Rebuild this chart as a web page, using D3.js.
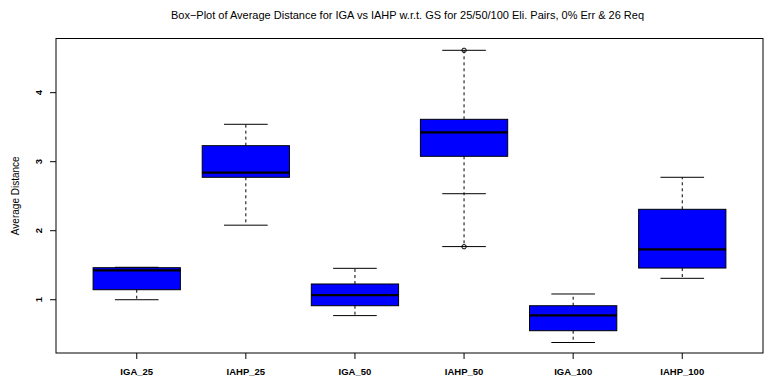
<!DOCTYPE html>
<html>
<head>
<meta charset="utf-8">
<script src="https://cdn.jsdelivr.net/npm/d3@7"></script>
<style>
  body { margin: 0; background: #fff; }
  svg { display: block; font-family: "Liberation Sans", Arial, sans-serif; }
</style>
</head>
<body>
<div id="chart"></div>
<script>
const categories = ['IGA_25', 'IAHP_25', 'IGA_50', 'IAHP_50', 'IGA_100', 'IAHP_100'];
// five-number summaries
const lowerWhisker = [1.00, 2.08, 0.77, 1.77, 0.38, 1.31];
const q1Values     = [1.145, 2.774, 0.913, 3.078, 0.551, 1.459];
const medianValues = [1.426, 2.841, 1.068, 3.426, 0.774, 1.730];
const q3Values     = [1.464, 3.232, 1.228, 3.614, 0.913, 2.310];
const upperWhisker = [1.47, 3.542, 1.455, 4.614, 1.083, 2.774];
// extra staples and outlier points (IAHP_50)
const extraCaps = [{ cat: 'IAHP_50', v: 2.536 }];
const outliers = [{ cat: 'IAHP_50', v: 4.614 }, { cat: 'IAHP_50', v: 1.768 }];
const yTicks = [1, 2, 3, 4];

const W = 767, H = 381;
const m = { left: 56, right: 4, top: 38.5, bottom: 28 };

const svg = d3.select('#chart').append('svg')
  .attr('width', W).attr('height', H);

// R style: x range 0.5..6.5 with 4% padding each side
const x = d3.scaleLinear()
  .domain([0.5 - 0.24, 6.5 + 0.24])
  .range([m.left, W - m.right]);
const y = d3.scaleLinear()
  .domain([0.228, 4.785])
  .range([H - m.bottom, m.top]);

const step = x(2) - x(1);
const boxW = step * 0.8;
const capW = boxW * 0.5;

const boxes = categories.map((c, i) => ({
  cat: c, pos: i + 1,
  lo: lowerWhisker[i], q1: q1Values[i], med: medianValues[i],
  q3: q3Values[i], hi: upperWhisker[i]
}));
const posOf = c => categories.indexOf(c) + 1;

// frame
svg.append('rect')
  .attr('x', m.left).attr('y', m.top)
  .attr('width', W - m.right - m.left)
  .attr('height', H - m.bottom - m.top)
  .attr('fill', 'none').attr('stroke', '#000').attr('stroke-width', 1);

const g = svg.append('g');

// whiskers (dashed)
g.selectAll('line.wup').data(boxes).join('line')
  .attr('x1', d => x(d.pos)).attr('x2', d => x(d.pos))
  .attr('y1', d => y(d.q3)).attr('y2', d => y(d.hi))
  .attr('stroke', '#000').attr('stroke-dasharray', '3,3');
g.selectAll('line.wlo').data(boxes).join('line')
  .attr('x1', d => x(d.pos)).attr('x2', d => x(d.pos))
  .attr('y1', d => y(d.q1)).attr('y2', d => y(d.lo))
  .attr('stroke', '#000').attr('stroke-dasharray', '3,3');

// staples
const caps = boxes.flatMap(d => [{ pos: d.pos, v: d.lo }, { pos: d.pos, v: d.hi }])
  .concat(extraCaps.map(e => ({ pos: posOf(e.cat), v: e.v })));
g.selectAll('line.cap').data(caps).join('line')
  .attr('x1', d => x(d.pos) - capW / 2).attr('x2', d => x(d.pos) + capW / 2)
  .attr('y1', d => y(d.v)).attr('y2', d => y(d.v))
  .attr('stroke', '#000').attr('stroke-width', 1);

// boxes
g.selectAll('rect.box').data(boxes).join('rect')
  .attr('x', d => x(d.pos) - boxW / 2)
  .attr('y', d => y(d.q3))
  .attr('width', boxW)
  .attr('height', d => y(d.q1) - y(d.q3))
  .attr('fill', '#0000ff').attr('stroke', '#000').attr('stroke-width', 1);

// medians
g.selectAll('line.med').data(boxes).join('line')
  .attr('x1', d => x(d.pos) - boxW / 2).attr('x2', d => x(d.pos) + boxW / 2)
  .attr('y1', d => y(d.med)).attr('y2', d => y(d.med))
  .attr('stroke', '#000').attr('stroke-width', 2.2);

// outliers
g.selectAll('circle.out').data(outliers).join('circle')
  .attr('cx', d => x(posOf(d.cat))).attr('cy', d => y(d.v))
  .attr('r', 2.2).attr('fill', 'none').attr('stroke', '#000').attr('stroke-width', 1);

// y axis
const yAxis = svg.append('g');
yAxis.selectAll('line').data(yTicks).join('line')
  .attr('x1', m.left).attr('x2', m.left - 6)
  .attr('y1', d => y(d)).attr('y2', d => y(d))
  .attr('stroke', '#000');
yAxis.selectAll('text').data(yTicks).join('text')
  .attr('transform', d => `translate(${m.left - 14},${y(d)}) rotate(-90)`)
  .attr('text-anchor', 'middle')
  .attr('font-size', 9.5).attr('font-weight', 'bold')
  .text(d => d);

// x axis
const xAxis = svg.append('g');
xAxis.selectAll('line').data(boxes).join('line')
  .attr('x1', d => x(d.pos)).attr('x2', d => x(d.pos))
  .attr('y1', H - m.bottom).attr('y2', H - m.bottom + 6)
  .attr('stroke', '#000');
xAxis.selectAll('text').data(boxes).join('text')
  .attr('x', d => x(d.pos)).attr('y', H - m.bottom + 22)
  .attr('text-anchor', 'middle')
  .attr('font-size', 9.5).attr('font-weight', 'bold')
  .text(d => d.cat);

// axis title
svg.append('text')
  .attr('transform', `translate(19,${(m.top + H - m.bottom) / 2}) rotate(-90)`)
  .attr('text-anchor', 'middle')
  .attr('font-size', 10)
  .text('Average Distance');

// main title
svg.append('text')
  .attr('x', (m.left + W - m.right) / 2 - 2).attr('y', 19)
  .attr('text-anchor', 'middle')
  .attr('font-size', 11)
  .text('Box\u2212Plot of Average Distance for IGA vs IAHP w.r.t. GS for 25/50/100 Eli. Pairs, 0% Err & 26 Req');
</script>
</body>
</html>
